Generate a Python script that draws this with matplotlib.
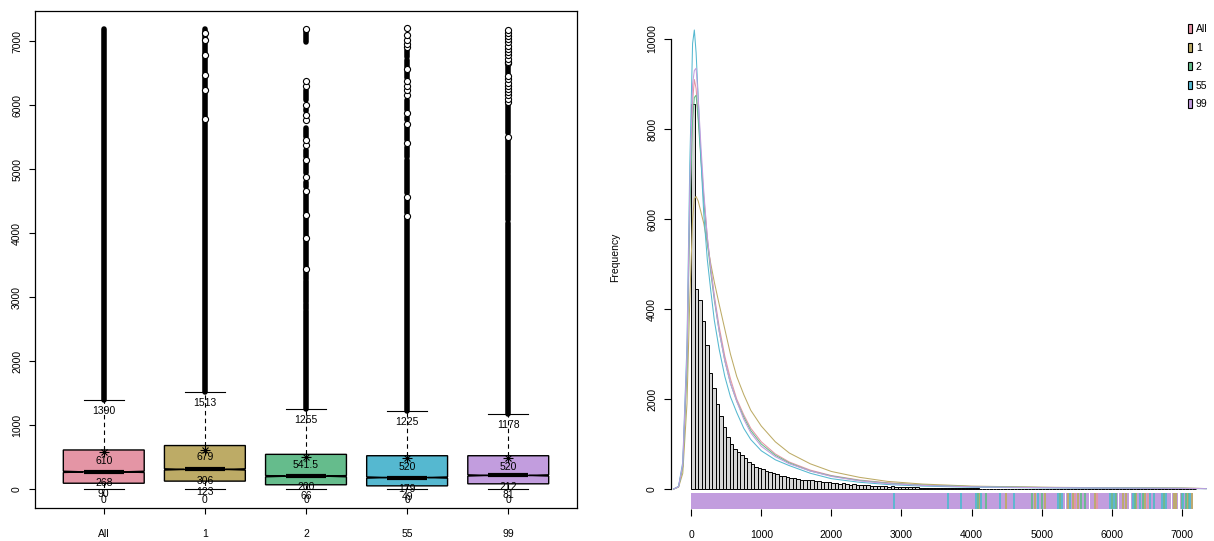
import numpy as np
import matplotlib
matplotlib.use("Agg")
import matplotlib.pyplot as plt
from matplotlib.patches import Patch

plt.rcParams['font.family'] = ['Liberation Sans', 'DejaVu Sans']

groups = ["All", "1", "2", "55", "99"]
colors = ["#E495A5", "#BDAB66", "#65BC8C", "#55B8D0", "#C29DDE"]

# box statistics
w_lo = [0, 0, 0, 0, 0]
q1 = [90, 123, 66, 49, 81]
med = [268, 306, 200, 179, 212]
q3 = [610, 679, 541.5, 520, 520]
w_hi = [1390, 1513, 1255, 1225, 1178]
means = [580, 610, 500, 485, 485]

# outliers: stretches that print as a solid column, and single circles
out_dense = [
    [(1390, 7190)],
    [(1513, 5760), (5820, 6200), (6260, 6440), (6500, 6760), (6800, 6990), (7030, 7110), (7140, 7190)],
    [(1255, 2780), (2820, 2890), (2920, 3250), (3280, 3420), (3470, 3900), (3960, 4250), (4310, 4620),
     (4720, 4800), (4940, 5090), (5190, 5300), (5500, 5640), (5900, 5940), (6080, 6230), (6990, 7150)],
    [(1225, 4235), (4310, 4515), (4625, 5140), (5190, 5340), (5450, 5650), (5765, 5810), (5920, 6080),
     (6420, 6520), (6600, 6700), (6750, 6860)],
    [(1178, 4160), (4200, 4900), (4940, 5450), (5560, 6030), (6480, 6620)],
]
out_single = [
    [],
    [5790, 6230, 6470, 6780, 7010, 7125],
    [3440, 3930, 4280, 4660, 4880, 5140, 5370, 5450, 5766, 5850, 6000, 6300, 6375, 7190],
    [4270, 4560, 5400, 5700, 5870, 6150, 6240, 6300, 6370, 6560, 6900, 6950, 7015, 7090, 7200],
    [5500, 6050, 6100, 6150, 6200, 6250, 6300, 6350, 6400, 6450, 6650, 6680, 6720, 6780, 6830,
     6880, 6930, 6980, 7030, 7080, 7130, 7180],
]

# histogram, bins of 50 from 0 to 7200
bin_width = 50
hist_counts = [8550, 4440, 4210, 3740, 3200, 2570, 2240, 1880, 1620, 1380,
               1160, 1010, 900, 830, 750, 680, 600, 560, 500, 470,
               440, 400, 380, 350, 330, 300, 290, 270, 250, 240,
               220, 210, 200, 190, 210, 180, 170, 160, 150, 160,
               140, 130, 120, 125, 110, 100, 105, 90, 85, 90,
               80, 75, 70, 75, 65, 60, 55, 60, 50, 55,
               45, 40, 42, 38, 35, 33, 30, 32, 28, 25,
               24, 22, 20, 21, 18, 17, 16, 15, 14, 13,
               12, 12, 11, 10, 10, 9, 9, 8, 8, 7,
               7, 7, 6, 6, 6, 5, 5, 5, 5, 4,
               4, 4, 4, 4, 3, 3, 3, 3, 3, 3, 3, 3, 2, 2, 2, 2, 2, 2, 2, 2,
               2, 2, 2, 2, 2, 2, 2, 2, 1, 1, 1, 1, 1, 1, 1, 1, 1, 1, 1, 1,
               1, 1, 1, 1]

# density curves scaled to frequency
dens_x = [-250, -180, -120, -60, -20, 20, 45, 70, 100, 140, 180, 230, 280, 330, 400, 480, 560,
          650, 750, 850, 1000, 1200, 1400, 1700, 2000, 2400, 2800, 3300, 4000, 5000, 6000, 7000, 7350]
dens_all = [0, 50, 500, 2800, 6300, 8600, 9100, 8900, 8300, 7400, 6500, 5600, 4900, 4300, 3600, 2950,
            2450, 2000, 1650, 1350, 1050, 780, 600, 420, 300, 200, 140, 90, 55, 35, 25, 18, 10]
dens_g1 = [0, 40, 350, 1900, 4200, 6000, 6450, 6500, 6400, 6150, 5900, 5450, 5000, 4600, 4100, 3550,
           3000, 2500, 2100, 1750, 1400, 1050, 800, 560, 390, 260, 170, 110, 65, 40, 28, 20, 10]
dens_g2 = [0, 50, 500, 2700, 6100, 8200, 8700, 8750, 8200, 7300, 6400, 5500, 4800, 4200, 3500, 2850,
           2350, 1950, 1600, 1300, 1000, 750, 580, 400, 290, 190, 130, 85, 55, 35, 25, 18, 10]
dens_g55 = [0, 60, 600, 3200, 7200, 9900, 10200, 9700, 8700, 7300, 6100, 5100, 4400, 3750, 3100, 2500,
            2050, 1700, 1350, 1100, 850, 650, 520, 350, 230, 150, 100, 65, 40, 25, 18, 12, 8]
dens_g99 = [0, 50, 550, 3000, 6700, 9000, 9300, 9350, 8700, 7600, 6600, 5600, 4900, 4250, 3500, 2850,
            2350, 1950, 1550, 1250, 950, 720, 560, 400, 280, 180, 120, 80, 50, 30, 22, 15, 8]
dens_curves = [dens_all, dens_g1, dens_g2, dens_g55, dens_g99]

# rug: solid purple stretches plus single coloured ticks
rug_purple = [(0, 5330), (5345, 5670), (5690, 6090), (6110, 6250), (6270, 6840), (6860, 6950), (6970, 7160)]
rug_all = [5480, 5790, 6520]
rug_g1 = [4120, 4490, 4900, 5050, 5380, 5450, 5520, 5760, 6160, 6200, 6350, 6480, 6600, 6890, 6920, 7080, 7150]
rug_g2 = [4090, 4200, 4860, 5000, 5260, 5560, 5620, 6000, 6060, 6330, 6450, 6740, 7000, 7060, 7100]
rug_g55 = [2900, 3670, 3850, 4060, 4140, 4410, 4600, 4950, 5230, 5290, 5400, 5980, 6040, 6300, 6410,
           6550, 6610, 6720, 6780, 7020, 7120]

fig = plt.figure(figsize=(12.14, 5.41), dpi=100)
W, H = 1214, 541

# ---------------- left: boxplots
ax = fig.add_axes([35 / W, 1 - 508 / H, 542 / W, 497 / H])
pos = np.arange(1, len(groups) + 1)
stats = []
for i in range(len(groups)):
    stats.append(dict(med=med[i], q1=q1[i], q3=q3[i], whislo=w_lo[i], whishi=w_hi[i],
                      cilo=med[i] - 10, cihi=med[i] + 10, mean=means[i], fliers=[]))
bp = ax.bxp(stats, positions=pos, widths=0.8, patch_artist=True, shownotches=True,
            showfliers=False,
            boxprops=dict(edgecolor='black', linewidth=1.0),
            medianprops=dict(color='black', linewidth=3.0, solid_capstyle='butt'),
            whiskerprops=dict(color='black', linewidth=0.8, linestyle=(0, (4, 3))),
            capprops=dict(color='black', linewidth=0.8))
for patch, c in zip(bp['boxes'], colors):
    patch.set_facecolor(c)

for i in range(len(groups)):
    for a, b in out_dense[i]:
        ax.vlines(pos[i], a, b, colors='black', linewidth=4.0, capstyle='round', zorder=3)
    if out_single[i]:
        ax.plot([pos[i]] * len(out_single[i]), out_single[i], 'o', mfc='white', mec='black',
                ms=4.4, mew=0.8, zorder=4)

ax.plot(pos, means, '+', color='black', ms=7, mew=0.8, zorder=5)
ax.plot(pos, means, 'x', color='black', ms=5, mew=0.8, zorder=5)

for i in range(len(groups)):
    for v in [w_hi[i], q3[i], med[i], q1[i], w_lo[i]]:
        ax.annotate(f"{v:g}", (pos[i], v), xytext=(0, -8), textcoords='offset points',
                    ha='center', va='center', fontsize=7.5, zorder=6)

ax.set_xlim(0.32, 5.68)
ax.set_ylim(-297, 7470)
ax.set_xticks(pos)
ax.set_xticklabels(groups)
ax.set_yticks(np.arange(0, 8000, 1000))
ax.tick_params(axis='both', direction='out', length=4.3, width=0.8, labelsize=7.5)
ax.tick_params(axis='x', pad=11)
ax.tick_params(axis='y', pad=5, labelrotation=90)
for lab in ax.get_yticklabels():
    lab.set_va('center')
for sp in ax.spines.values():
    sp.set_linewidth(0.9)

# ---------------- right: histogram with densities and rug
ax2 = fig.add_axes([671 / W, 1 - 509 / H, 543 / W, 484 / H])
edges = np.arange(0, bin_width * len(hist_counts), bin_width)
ax2.bar(edges, hist_counts, width=bin_width, align='edge', color='#d6d6d6',
        edgecolor='black', linewidth=0.7, zorder=1)
for c, d in zip(colors, dens_curves):
    ax2.plot(dens_x, d, color=c, linewidth=0.75, zorder=2)

rug_lo, rug_hi = -444, -89
ax2.broken_barh([(a, b - a) for a, b in rug_purple], (rug_lo, rug_hi - rug_lo),
                facecolors=colors[4], zorder=3)
for vals, c in [(rug_all, colors[0]), (rug_g1, colors[1]), (rug_g2, colors[2]), (rug_g55, colors[3])]:
    ax2.vlines(vals, rug_lo, rug_hi, colors=c, linewidth=1.3, zorder=4)

ax2.set_xlim(-288, 7460)
ax2.set_ylim(-444, 10311)
ax2.set_xticks(np.arange(0, 8000, 1000))
ax2.set_yticks(np.arange(0, 12000, 2000))
for s in ['top', 'right', 'bottom']:
    ax2.spines[s].set_visible(False)
ax2.spines['left'].set_bounds(0, 10000)
ax2.spines['left'].set_linewidth(0.9)
ax2.tick_params(axis='both', direction='out', length=5, width=0.8, labelsize=7.5)
ax2.tick_params(axis='x', pad=10)
ax2.tick_params(axis='y', pad=5, labelrotation=90)
for lab in ax2.get_yticklabels():
    lab.set_va('center')
ax2.set_ylabel('Frequency', fontsize=7.5)
ax2.yaxis.set_label_coords(-0.094, 0.52)

handles = [Patch(facecolor=c, edgecolor='black', linewidth=0.8, label=g) for g, c in zip(groups, colors)]
ax2.legend(handles=handles, loc='upper left', bbox_to_anchor=(1188 / W, 1 - 24 / H),
           bbox_transform=fig.transFigure, frameon=False, fontsize=7.5,
           handlelength=0.35, handleheight=0.9, handletextpad=0.4, labelspacing=0.85,
           borderpad=0, borderaxespad=0)

fig.savefig('out.png', dpi=100)
